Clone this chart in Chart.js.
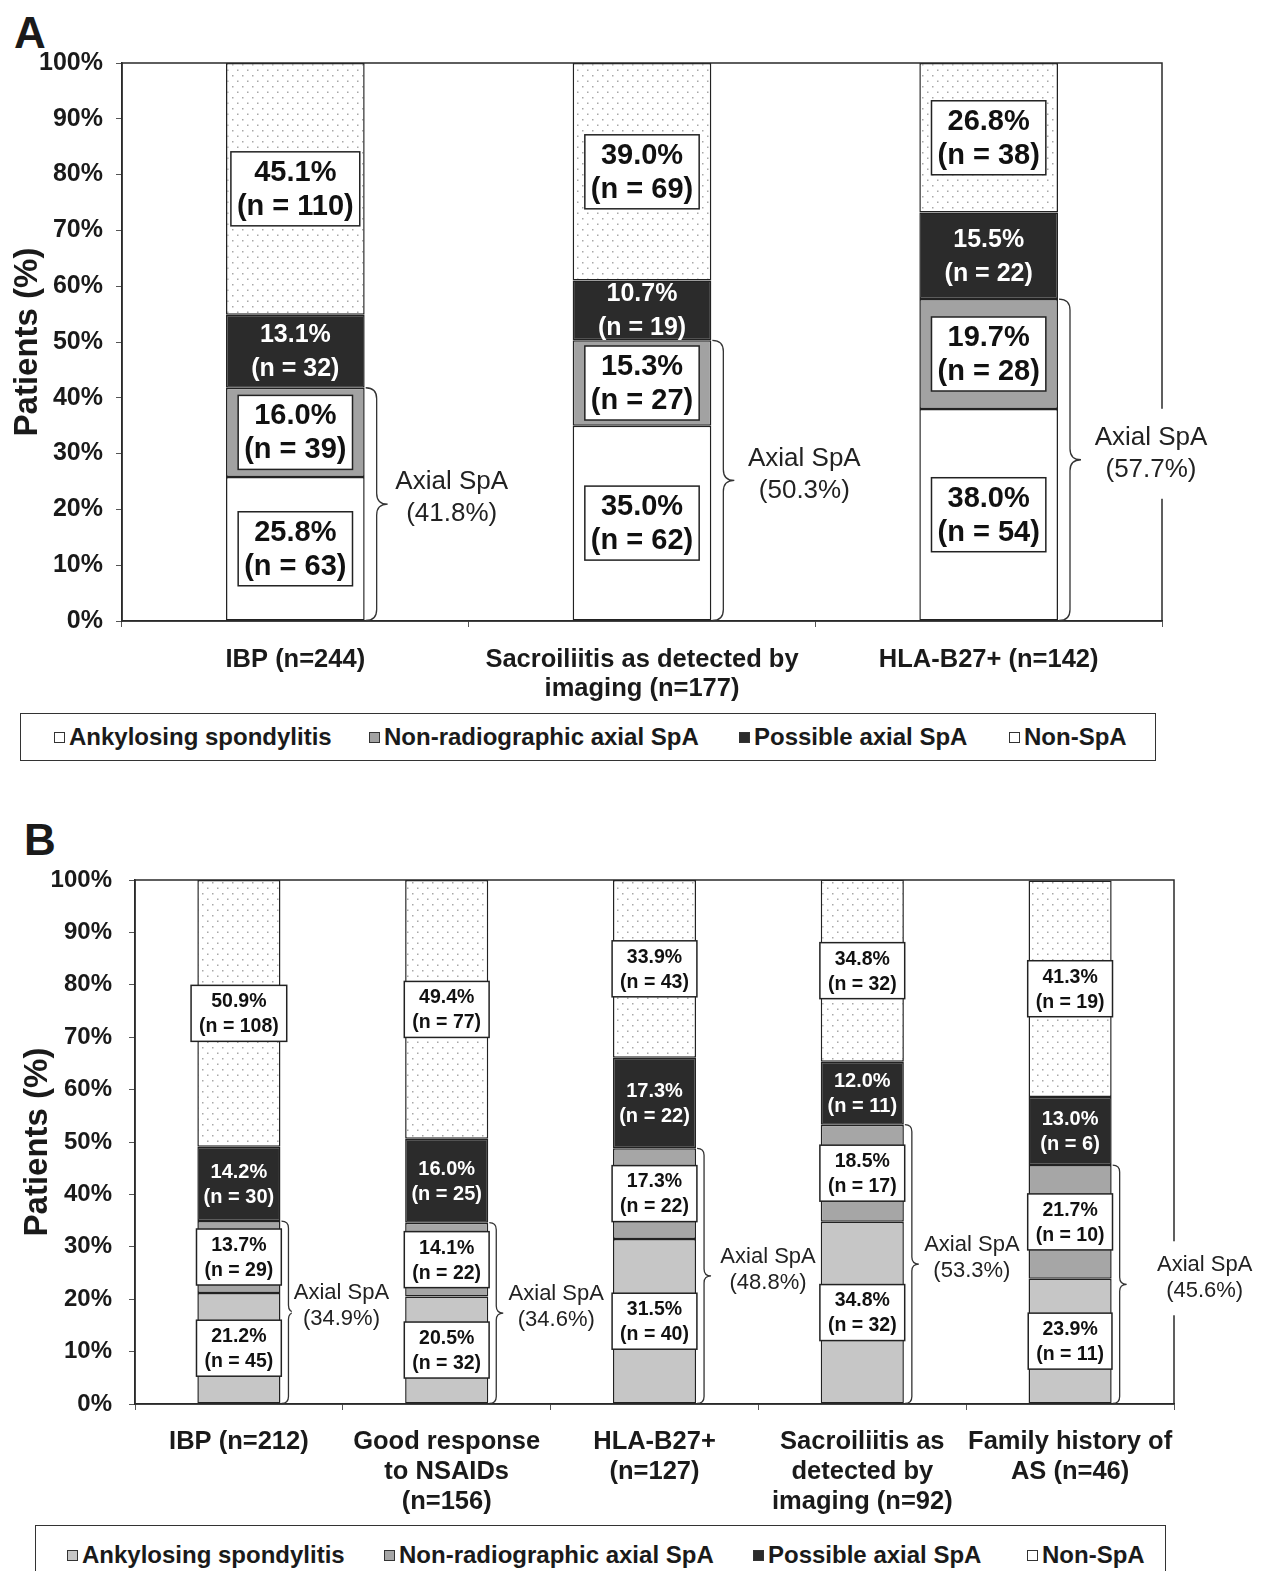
<!DOCTYPE html>
<html>
<head>
<meta charset="utf-8">
<script src="https://cdn.jsdelivr.net/npm/chart.js@4.4.1/dist/chart.umd.min.js"></script>
<style>
  html, body { margin: 0; padding: 0; background: #fff; }
  body { width: 1268px; height: 1571px; position: relative; overflow: hidden;
         font-family: "Liberation Sans", Arial, sans-serif; color: #1a1a1a; }
  .panel-letter { position: absolute; font-weight: bold; font-size: 44px; line-height: 1; }
  .chart-box { position: absolute; left: 0; width: 1268px; }
  .legend { position: absolute; border: 1.5px solid #333; box-sizing: border-box; background: #fff; }
  .legend .item { position: absolute; top: 50%; transform: translateY(-50%);
                  font-weight: bold; font-size: 24px; white-space: nowrap; display: flex; align-items: center; }
  .legend .swatch { width: 11px; height: 11px; border: 1.5px solid #333; margin-right: 4px; box-sizing: border-box; }
</style>
</head>
<body>

<div class="panel-letter" style="left:14px; top:11px;">A</div>
<div class="chart-box" style="top:40px; height:670px;"><canvas id="chartA" width="1268" height="670"></canvas></div>
<div class="legend" id="legendA" style="left:20px; top:713px; width:1136px; height:48px;"></div>

<div class="panel-letter" style="left:24px; top:818px;">B</div>
<div class="chart-box" style="top:858px; height:667px;"><canvas id="chartB" width="1268" height="667"></canvas></div>
<div class="legend" id="legendB" style="left:35px; top:1525px; width:1131px; height:60px;"></div>

<script>
// ---------- Panel A data ----------
const catsA = [['IBP (n=244)'], ['Sacroiliitis as detected by', 'imaging (n=177)'], ['HLA-B27+ (n=142)']];
const asPctA       = [25.8, 35.0, 38.0];
const asNA         = [63, 62, 54];
const nrPctA       = [16.0, 15.3, 19.7];
const nrNA         = [39, 27, 28];
const possPctA     = [13.1, 10.7, 15.5];
const possNA       = [32, 19, 22];
const nonPctA      = [45.1, 39.0, 26.8];
const nonNA        = [110, 69, 38];

// ---------- Panel B data ----------
const catsB = [['IBP (n=212)'], ['Good response', 'to NSAIDs', '(n=156)'], ['HLA-B27+', '(n=127)'],
               ['Sacroiliitis as', 'detected by', 'imaging (n=92)'], ['Family history of', 'AS (n=46)']];
const asPctB       = [21.2, 20.5, 31.5, 34.8, 23.9];
const asNB         = [45, 32, 40, 32, 11];
const nrPctB       = [13.7, 14.1, 17.3, 18.5, 21.7];
const nrNB         = [29, 22, 22, 17, 10];
const possPctB     = [14.2, 16.0, 17.3, 12.0, 13.0];
const possNB       = [30, 25, 22, 11, 6];
const nonPctB      = [50.9, 49.4, 33.9, 34.8, 41.3];
const nonNB        = [108, 77, 43, 32, 19];

const yTicks = [0, 10, 20, 30, 40, 50, 60, 70, 80, 90, 100];
const seriesNames = ['Ankylosing spondylitis', 'Non-radiographic axial SpA', 'Possible axial SpA', 'Non-SpA'];

const FONT = '"Liberation Sans", Arial, sans-serif';

// Stippled fill used for the Non-SpA segments
function dotPattern() {
  const c = document.createElement('canvas');
  c.width = 10; c.height = 11;
  const g = c.getContext('2d');
  g.fillStyle = '#fff'; g.fillRect(0, 0, 10, 11);
  g.fillStyle = '#a8a8a8';
  g.fillRect(2, 2, 1.5, 1.5);
  g.fillRect(7, 7.5, 1.5, 1.5);
  return g.createPattern(c, 'repeat');
}

// Curly brace opening to the right
function drawBrace(ctx, x, y1, y2, w) {
  const ym = (y1 + y2) / 2, r = w / 2;
  ctx.beginPath();
  ctx.moveTo(x, y1);
  ctx.quadraticCurveTo(x + r, y1, x + r, y1 + r);
  ctx.lineTo(x + r, ym - r);
  ctx.quadraticCurveTo(x + r, ym, x + w, ym);
  ctx.quadraticCurveTo(x + r, ym, x + r, ym + r);
  ctx.lineTo(x + r, y2 - r);
  ctx.quadraticCurveTo(x + r, y2, x, y2);
  ctx.stroke();
}

// Segment value labels, plot frame and "Axial SpA" braces
const annotate = {
  id: 'annotate',
  afterDatasetsDraw(chart, args, o) {
    const ctx = chart.ctx, a = chart.chartArea;
    ctx.save();
    ctx.strokeStyle = '#2a2a2a';
    ctx.lineWidth = 1.5;
    ctx.strokeRect(a.left, a.top, a.right - a.left, a.bottom - a.top);

    ctx.textAlign = 'center';
    ctx.textBaseline = 'middle';
    chart.data.datasets.forEach((ds, di) => {
      const meta = chart.getDatasetMeta(di);
      meta.data.forEach((bar, i) => {
        const p = bar.getProps(['x', 'y', 'base', 'width'], true);
        const cy = (p.y + p.base) / 2;
        const lines = [ds.data[i].toFixed(1) + '%', '(n = ' + ds.counts[i] + ')'];
        if (ds.plainLabel) {
          ctx.font = 'bold ' + o.plainFontSize + 'px ' + FONT;
          ctx.fillStyle = '#fff';
        } else {
          ctx.font = 'bold ' + o.fontSize + 'px ' + FONT;
          const tw = Math.max(...lines.map(t => ctx.measureText(t).width));
          const bw = tw + o.boxPadX * 2, bh = o.lineGap * 2 + o.boxPadY * 2;
          ctx.fillStyle = '#fff';
          ctx.fillRect(p.x - bw / 2, cy - bh / 2, bw, bh);
          ctx.lineWidth = 1.5;
          ctx.strokeStyle = '#222';
          ctx.strokeRect(p.x - bw / 2, cy - bh / 2, bw, bh);
          ctx.fillStyle = '#111';
        }
        ctx.fillText(lines[0], p.x, cy - o.lineGap / 2 + 1);
        ctx.fillText(lines[1], p.x, cy + o.lineGap / 2 + 1);
      });
    });

    // Axial SpA = ankylosing spondylitis + non-radiographic axial SpA
    const asMeta = chart.getDatasetMeta(0), nrMeta = chart.getDatasetMeta(1);
    const asData = chart.data.datasets[0].data, nrData = chart.data.datasets[1].data;
    ctx.font = o.braceFontSize + 'px ' + FONT;
    nrMeta.data.forEach((bar, i) => {
      const top = bar.getProps(['y'], true).y;
      const pa = asMeta.data[i].getProps(['x', 'base', 'width'], true);
      const x0 = pa.x + pa.width / 2;
      ctx.strokeStyle = '#333';
      ctx.lineWidth = 1.3;
      drawBrace(ctx, x0 + 1, top, pa.base, o.braceWidth);
      const tx = x0 + o.textOffsets[i], ty = (top + pa.base) / 2 - o.textLift;
      const l1 = 'Axial SpA', l2 = '(' + (asData[i] + nrData[i]).toFixed(1) + '%)';
      const tw = Math.max(ctx.measureText(l1).width, ctx.measureText(l2).width);
      ctx.fillStyle = '#fff';
      ctx.fillRect(tx - tw / 2 - 2, ty - o.braceGap - o.braceFontSize / 2, tw + 4, o.braceGap * 2 + o.braceFontSize);
      ctx.fillStyle = '#222';
      ctx.fillText(l1, tx, ty - o.braceGap / 2);
      ctx.fillText(l2, tx, ty + o.braceGap / 2);
    });
    ctx.restore();
  }
};

function buildChart(id, cats, asP, asN, nrP, nrN, poP, poN, noP, noN, s) {
  const pat = dotPattern();
  const common = { borderColor: '#222', borderWidth: 1.5, borderSkipped: false,
                   barPercentage: 0.4, categoryPercentage: 1.0, stack: 'all' };
  return new Chart(document.getElementById(id), {
    type: 'bar',
    data: {
      labels: cats,
      datasets: [
        Object.assign({ label: seriesNames[0], data: asP, counts: asN, backgroundColor: s.asColor }, common),
        Object.assign({ label: seriesNames[1], data: nrP, counts: nrN, backgroundColor: s.nrColor }, common),
        Object.assign({ label: seriesNames[2], data: poP, counts: poN, backgroundColor: '#2b2b2b', plainLabel: true }, common),
        Object.assign({ label: seriesNames[3], data: noP, counts: noN, backgroundColor: pat }, common)
      ]
    },
    options: {
      responsive: false,
      animation: false,
      devicePixelRatio: 1,
      layout: { padding: { top: s.padTop, right: s.padRight, left: 0, bottom: 0 } },
      plugins: {
        legend: { display: false },
        tooltip: { enabled: false },
        annotate: s.labels
      },
      scales: {
        x: {
          stacked: true,
          offset: true,
          grid: { display: true, drawOnChartArea: false, offset: true, tickLength: 6, color: '#555', lineWidth: 1 },
          border: { display: true, color: '#2a2a2a', width: 1.5 },
          ticks: { color: '#1a1a1a', padding: s.xPad, maxRotation: 0, autoSkip: false,
                   font: { family: FONT, size: s.xFont, weight: 'bold', lineHeight: s.xLine } },
          afterFit: sc => { sc.height = s.xHeight; sc.paddingLeft = 0; sc.paddingRight = 0; }
        },
        y: {
          stacked: true,
          min: 0, max: 100,
          afterBuildTicks: sc => { sc.ticks = yTicks.map(v => ({ value: v })); },
          grid: { display: true, drawOnChartArea: false, tickLength: 6, color: '#555' },
          border: { display: true, color: '#2a2a2a', width: 1.5 },
          ticks: { color: '#1a1a1a', padding: s.yPad, callback: v => v + '%',
                   font: { family: FONT, size: s.yFont, weight: 'bold' } },
          title: { display: true, text: 'Patients (%)', color: '#1a1a1a',
                   padding: { top: s.titlePad, bottom: 0 },
                   font: { family: FONT, size: 33, weight: 'bold', lineHeight: 1.2 } },
          afterFit: sc => { sc.width = s.yWidth; sc.paddingTop = 0; sc.paddingBottom = 0; }
        }
      }
    },
    plugins: [annotate]
  });
}

buildChart('chartA', catsA, asPctA, asNA, nrPctA, nrNA, possPctA, possNA, nonPctA, nonNA, {
  asColor: '#ffffff', nrColor: '#a2a2a2',
  padTop: 23, padRight: 106, xHeight: 89, yWidth: 122,
  xPad: 18, xFont: 25.5, xLine: 1.15, yPad: 13, yFont: 25, titlePad: 8,
  labels: { fontSize: 29, plainFontSize: 25, lineGap: 34, boxPadX: 6, boxPadY: 3,
            braceWidth: 22, textOffsets: [87, 93, 93], textLift: 6, braceFontSize: 26, braceGap: 32 }
});

buildChart('chartB', catsB, asPctB, asNB, nrPctB, nrNB, possPctB, possNB, nonPctB, nonNB, {
  asColor: '#c6c6c6', nrColor: '#a6a6a6',
  padTop: 22, padRight: 94, xHeight: 121, yWidth: 135,
  xPad: 17, xFont: 25.5, xLine: 1.18, yPad: 17, yFont: 24, titlePad: 18,
  labels: { fontSize: 19.5, plainFontSize: 20, lineGap: 25, boxPadX: 8, boxPadY: 3,
            braceWidth: 14, textOffsets: [61, 68, 72, 68, 93], textLift: 6, braceFontSize: 22, braceGap: 26 }
});

// Legends
function buildLegend(id, positions, fills) {
  const el = document.getElementById(id);
  seriesNames.forEach((name, i) => {
    const it = document.createElement('div');
    it.className = 'item';
    it.style.left = positions[i] + 'px';
    const sw = document.createElement('span');
    sw.className = 'swatch';
    sw.style.background = fills[i];
    it.appendChild(sw);
    it.appendChild(document.createTextNode(name));
    el.appendChild(it);
  });
}
buildLegend('legendA', [33, 348, 718, 988], ['#fff', '#a2a2a2', '#2b2b2b', '#fff']);
buildLegend('legendB', [31, 348, 717, 991], ['#c6c6c6', '#a6a6a6', '#2b2b2b', '#fff']);
</script>
</body>
</html>
